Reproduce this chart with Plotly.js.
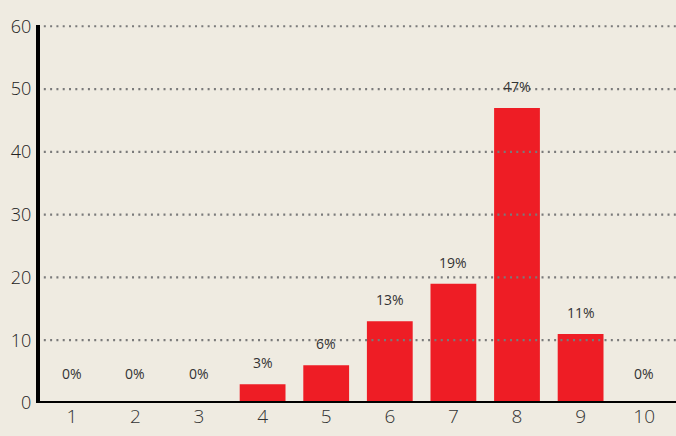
<!DOCTYPE html>
<html><head><meta charset="utf-8">
<script src="https://cdn.plot.ly/plotly-3.0.1.min.js"></script>
<style>html,body{margin:0;padding:0;background:#efebe1;}</style>
</head><body>
<div id="chart" style="width:676px;height:436px;"></div>
<script>
var categories = [1, 2, 3, 4, 5, 6, 7, 8, 9, 10];
var values = [0, 0, 0, 3, 6, 13, 19, 47, 11, 0];
var labels = ['0%', '0%', '0%', '3%', '6%', '13%', '19%', '47%', '11%', '0%'];
var gridValues = [10, 20, 30, 40, 50, 60];

var shapes = gridValues.map(function (v) {
  return {type: 'line', xref: 'paper', yref: 'y', x0: 0.006, x1: 1, y0: v, y1: v,
    line: {color: '#7a7a7a', width: 2.2, dash: '2px,4.3px'}, layer: 'above'};
});

var annotations = categories.map(function (c, i) {
  return {x: c, y: values[i], xref: 'x', yref: 'y', text: labels[i], showarrow: false,
    yanchor: 'bottom', yshift: values[i] === 0 ? 18 : 10,
    font: {family: 'Open Sans, sans-serif', size: 14, color: '#333'}};
});

var trace = {
  type: 'bar', x: categories, y: values, cliponaxis: false,
  marker: {color: '#ee1d25'}, hoverinfo: 'none'
};

var layout = {
  width: 676, height: 436,
  margin: {l: 40, r: 0, t: 25, b: 33},
  paper_bgcolor: '#efebe1', plot_bgcolor: '#efebe1',
  bargap: 0.28, showlegend: false,
  xaxis: {range: [0.5, 10.5], tickvals: categories, ticktext: categories.map(String),
    showgrid: false, zeroline: false, showline: false, ticks: '',
    tickfont: {family: 'Open Sans, sans-serif', size: 19, color: '#333', weight: 300}},
  yaxis: {range: [0, 60.2], tickvals: [0, 10, 20, 30, 40, 50, 60],
    showgrid: false, zeroline: false, showline: true, linecolor: '#000', linewidth: 4,
    ticks: '', ticklabelstandoff: 1,
    tickfont: {family: 'Open Sans, sans-serif', size: 18, color: '#222', weight: 300}},
  annotations: annotations,
  shapes: shapes.concat([{type: 'line', xref: 'paper', yref: 'y', x0: 0, x1: 1, y0: 0, y1: 0,
    line: {color: '#000', width: 4}, layer: 'above'}])
};

Plotly.newPlot('chart', [trace], layout, {displayModeBar: false, staticPlot: true});
</script>
</body></html>
